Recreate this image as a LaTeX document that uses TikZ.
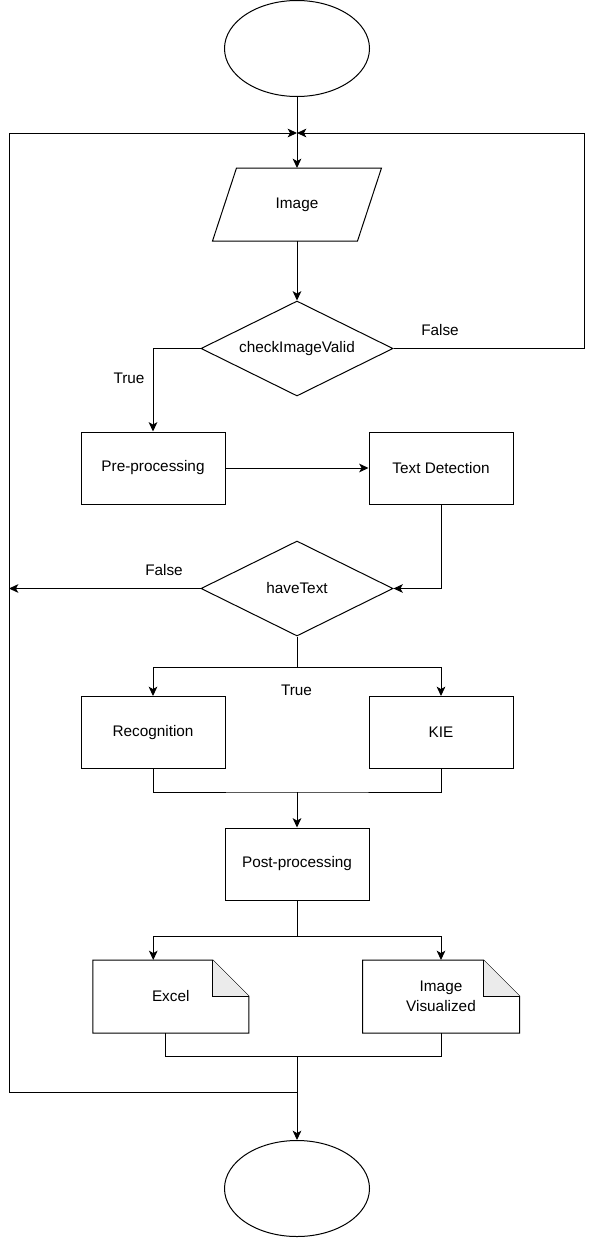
\documentclass[tikz,border=0pt]{standalone}
\usepackage{fontspec}
\setmainfont{Liberation Sans}
\usepackage{tikz}
\usetikzlibrary{shapes.geometric, arrows.meta, calc}
\definecolor{foldgray}{RGB}{235,235,235}

\begin{document}
\begin{tikzpicture}[x=0.75pt,y=0.75pt,yscale=-1,xscale=1,
  font=\fontsize{11.5}{15}\selectfont,
  line width=0.75pt,
  >={Stealth[length=7pt,width=6.5pt,inset=1.8pt]},
  term/.style={draw, ellipse, minimum width=108.75pt, minimum height=72pt, inner sep=0pt},
  proc/.style={draw, rectangle, minimum width=108pt, minimum height=54pt, inner sep=0pt},
  dec/.style={draw, diamond, aspect=2, minimum width=144pt, minimum height=71.25pt, inner sep=0pt},
  iobox/.style={rectangle, minimum width=108pt, minimum height=54pt, inner sep=0pt},
  docbox/.style={rectangle, minimum height=54pt, inner sep=0pt, align=center},
  lbl/.style={inner sep=0.75pt}]
\useasboundingbox (0,0) rectangle (596,1238);

%Shape: Ellipse
\node[term] (start) at (297,48.5) {};
%Shape: Data
\node[iobox] (img) at (297,204.5) {Image};
\draw ($(img.north west)+(12,0)$) -- ($(img.north east)+(12,0)$) -- ($(img.south east)+(-12,0)$) -- ($(img.south west)+(-12,0)$) -- cycle ;
%Shape: Diamond
\node[dec] (chk) at (297,348.5) {checkImageValid};
%Shape: Rectangle
\node[proc] (pre) at (153,468) {Pre-processing};
%Shape: Rectangle
\node[proc] (tdet) at (441,468) {Text Detection};
%Shape: Diamond
\node[dec] (hvt) at (297,588.5) {haveText};
%Shape: Rectangle
\node[proc] (rec) at (153,732.5) {Recognition};
%Shape: Rectangle
\node[proc] (kie) at (441,732.5) {KIE};
%Shape: Rectangle
\node[proc] (post) at (297,864) {Post-processing};
%Shape: Document
\node[docbox, minimum width=116.25pt] (xls) at (170.75,996.5) {Excel};
\draw (xls.north west) -- ($(xls.north east)+(-36,0)$) -- ($(xls.north east)+(0,36)$) -- (xls.south east) -- (xls.south west) -- cycle ;
\filldraw[fill=foldgray] ($(xls.north east)+(-36,0)$) -- ($(xls.north east)+(-36,36)$) -- ($(xls.north east)+(0,36)$) ;
%Shape: Document
\node[docbox, minimum width=117pt] (vis) at (441,996.5) {Image\\Visualized};
\draw (vis.north west) -- ($(vis.north east)+(-36,0)$) -- ($(vis.north east)+(0,36)$) -- (vis.south east) -- (vis.south west) -- cycle ;
\filldraw[fill=foldgray] ($(vis.north east)+(-36,0)$) -- ($(vis.north east)+(-36,36)$) -- ($(vis.north east)+(0,36)$) ;
%Shape: Ellipse
\node[term] (end) at (297,1188.5) {};

%Bends
\coordinate (jn) at (297,133);
\coordinate (rgt) at (584,133);
\coordinate (lft) at (9,133);
\coordinate (br1) at (297,667);
\coordinate (mg1) at (297,792);
\coordinate (br2) at (297,936);
\coordinate (mg2) at (297,1056);
\coordinate (lp) at (297,1092);

%Straight Lines
\draw[->] (start.south) -- (img.north) ;
\draw[->] (chk.east) -| (rgt) -- (jn) ;
\draw[->] (lp) -| (lft) -- (jn) ;
\draw[->] (img.south) -- (chk.north) ;
\draw[->] (chk.west) -| (pre.north) ;
\draw[->] (pre.east) -- (tdet.west) ;
\draw[->] (tdet.south) |- (hvt.east) ;
\draw[->] (hvt.west) -- (hvt.west -| lft) ;
\draw (hvt.south) -- (br1) ;
\draw[->] (br1) -| (rec.north) ;
\draw[->] (br1) -| (kie.north) ;
\draw (rec.south) |- (mg1) -| (kie.south) ;
\draw[->] (mg1) -- (post.north) ;
\draw (post.south) -- (br2) ;
\draw[->] (br2) -| ($(xls.north)+(-17.5,0)$) ;
\draw[->] (br2) -| (vis.north) ;
\draw ($(xls.south)+(-5.5,0)$) |- (mg2) -| (vis.south) ;
\draw[->] (mg2) -- (end.north) ;

% Text Node
\node[lbl] (tru1) at (129,378) {True};
% Text Node
\node[lbl] (fls1) at (440,330) {False};
% Text Node
\node[lbl] (fls2) at (164,570) {False};
% Text Node
\node[lbl] (tru2) at (296.5,690) {True};

\end{tikzpicture}
\end{document}
